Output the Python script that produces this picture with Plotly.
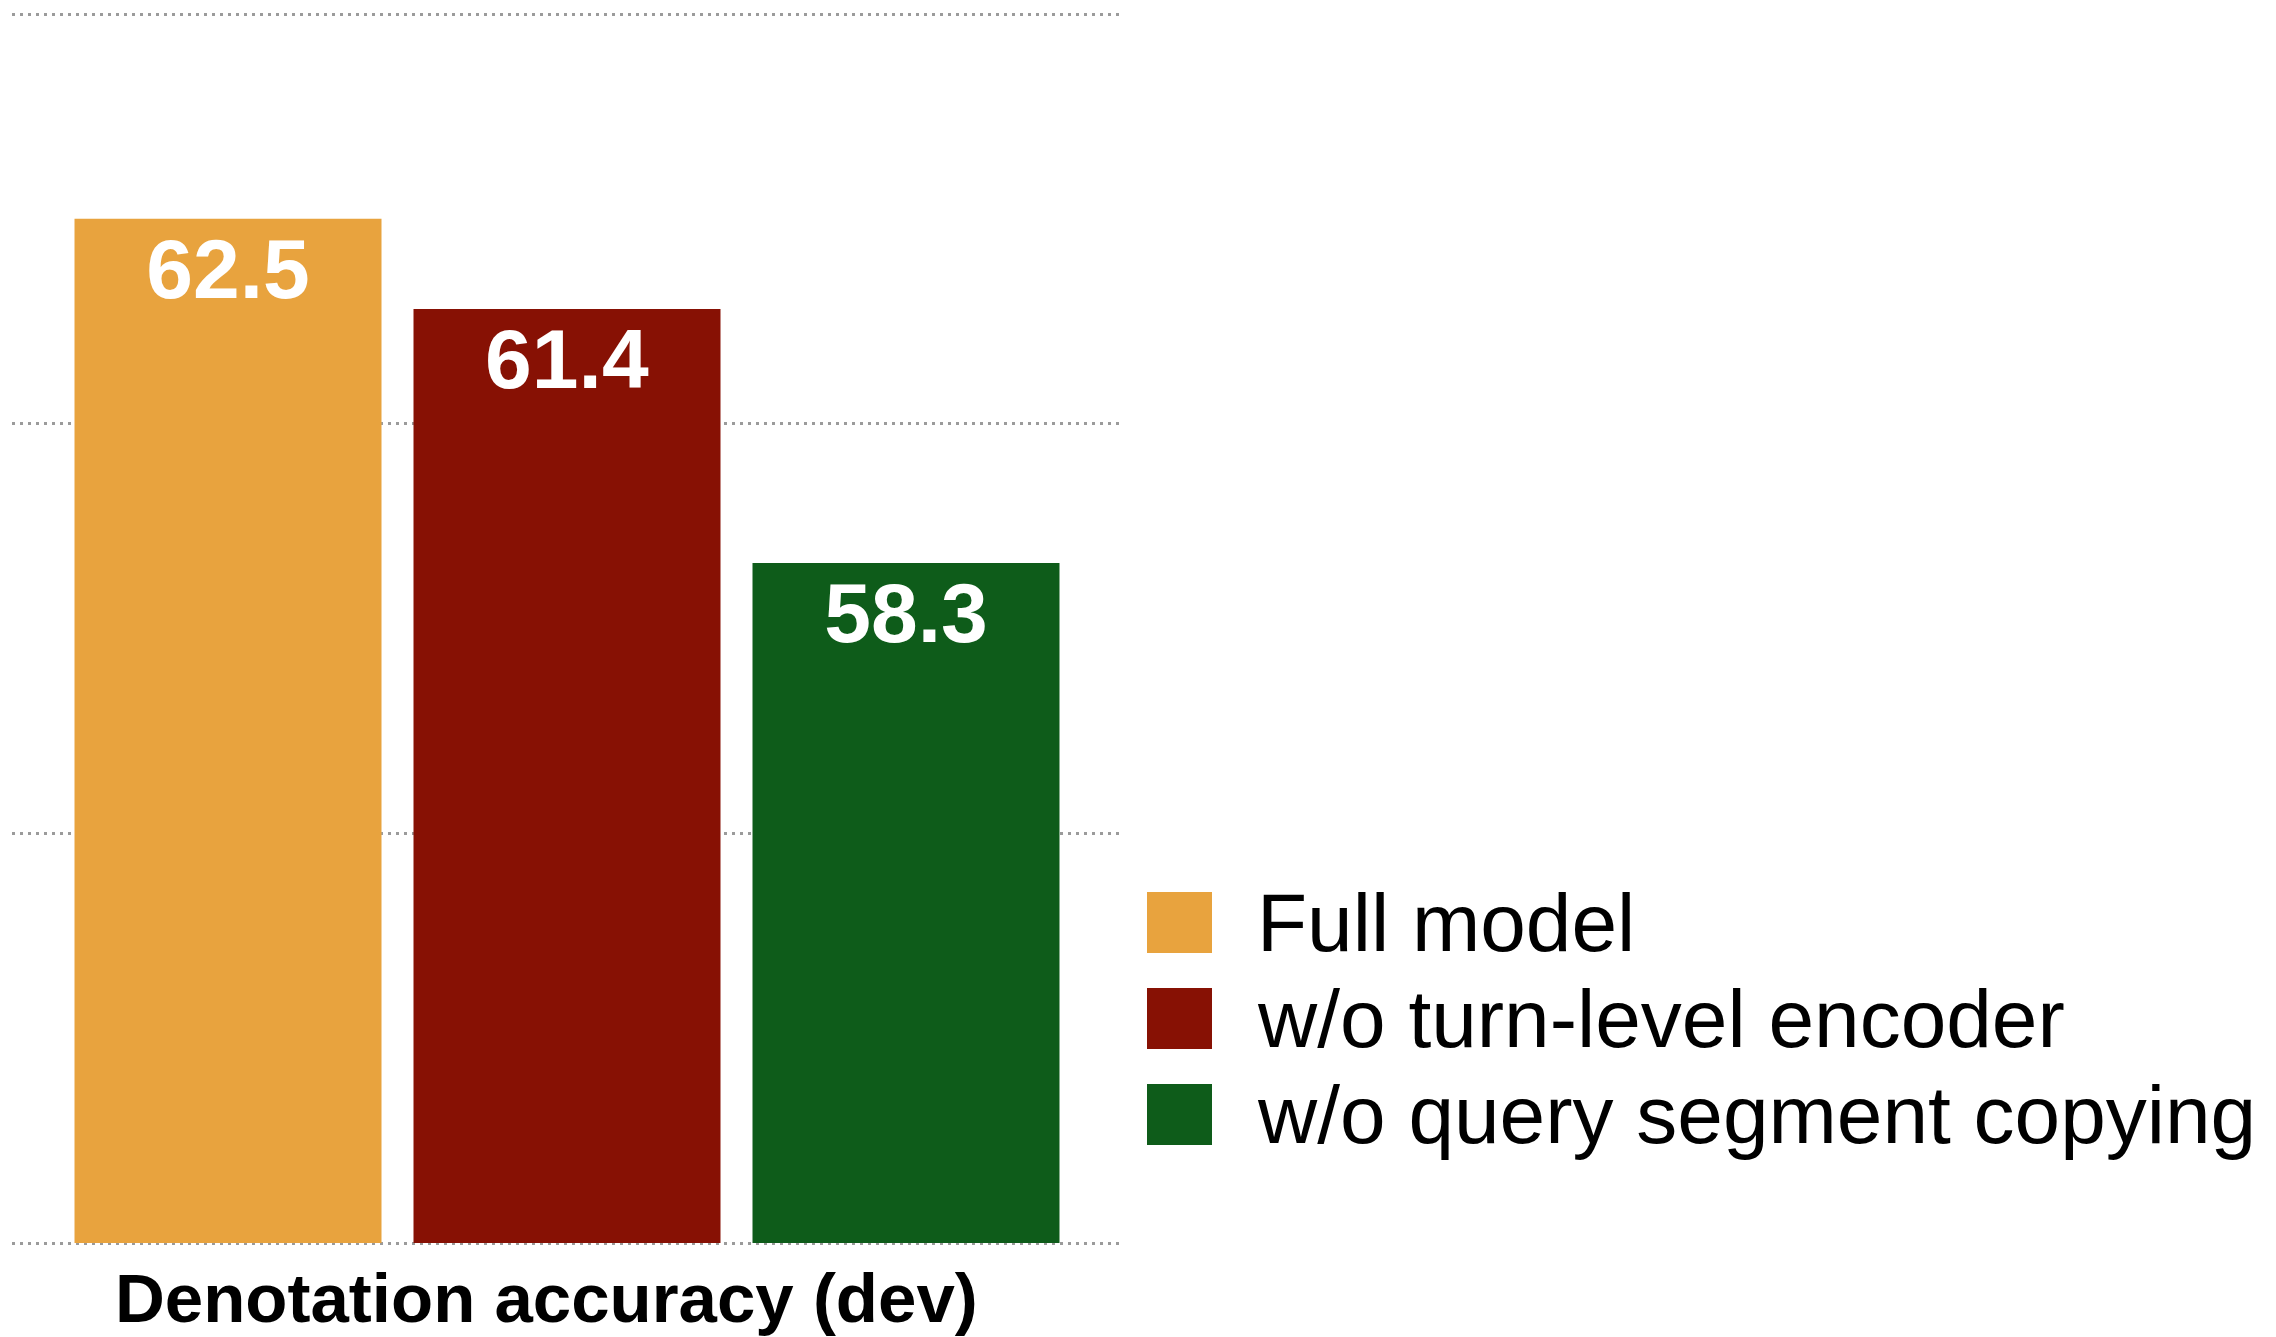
import plotly.graph_objects as go

# Data
categories = ["Denotation accuracy (dev)"]
series_names = ["Full model", "w/o turn-level encoder", "w/o query segment copying"]
series_values = [62.5, 61.4, 58.3]
series_colors = ["#E8A33E", "#871104", "#0E5C1A"]
y_ticks = [50, 55, 60, 65]
y_min, y_max = 50, 65

# Canvas and plot-area geometry (pixels); the value axis runs from px 1243 (50) to px 14 (65)
W, H = 2276, 1337
L, R = 12, 1154
Y_BOTTOM_PX, Y_TOP_PX = 1243, 14
EDGE = 3  # small pad so the outer gridlines at 50 and 65 stay inside the plot area
T, B = Y_TOP_PX - EDGE, H - Y_BOTTOM_PX - EDGE
unit_px = (Y_BOTTOM_PX - Y_TOP_PX) / (y_max - y_min)
pad_units = EDGE / unit_px

plot_w = W - L - R
plot_h = H - T - B

FONT = "Liberation Sans, Arial, Helvetica, sans-serif"


def px_x(x):
    return (x - L) / plot_w


def px_y(y):
    return (H - B - y) / plot_h


fig = go.Figure()
for name, val, col in zip(series_names, series_values, series_colors):
    fig.add_trace(go.Bar(
        x=categories,
        y=[val - y_min],
        base=y_min,
        name=name,
        marker=dict(color=col, line=dict(width=0)),
        text=[f"{val:.1f}"],
        texttemplate="%{text}",
        textposition="inside",
        insidetextanchor="end",
        textangle=0,
        textfont=dict(family=FONT, size=84, color="white", weight="bold"),
        showlegend=False,
    ))

# Hand-built legend: large square swatches with labels to their right
sw_left, sw_right = 1147, 1212
sw_tops = [892, 988, 1084]
sw_h = 61
shapes = []
annotations = []
for name, col, top in zip(series_names, series_colors, sw_tops):
    shapes.append(dict(
        type="rect", xref="paper", yref="paper",
        x0=px_x(sw_left), x1=px_x(sw_right),
        y0=px_y(top + sw_h), y1=px_y(top),
        fillcolor=col, line=dict(width=0), layer="above",
    ))
    annotations.append(dict(
        text=name, xref="paper", yref="paper",
        x=px_x(1256), y=px_y(top + sw_h / 2),
        xanchor="left", yanchor="middle", showarrow=False, borderpad=0,
        font=dict(family=FONT, size=82, color="black"),
    ))

# Category label under the bars
annotations.append(dict(
    text=categories[0], xref="paper", yref="paper",
    x=px_x(546), y=px_y(1299),
    xanchor="center", yanchor="middle", showarrow=False,
    font=dict(family=FONT, size=69, color="black", weight="bold"),
))

fig.update_layout(
    width=W, height=H,
    margin=dict(l=L, r=R, t=T, b=B, pad=0),
    paper_bgcolor="white", plot_bgcolor="white",
    barmode="group", bargap=0.0838, bargroupgap=0.0944,
    showlegend=False,
    shapes=shapes, annotations=annotations,
    xaxis=dict(type="category", showticklabels=False, showgrid=False,
               zeroline=False, showline=False, ticks=""),
    yaxis=dict(range=[y_min - pad_units, y_max + pad_units], tickvals=y_ticks,
               showticklabels=False, showgrid=True, gridcolor="#9b9b9b",
               gridwidth=3, griddash="3px,5px", zeroline=False,
               showline=False, ticks=""),
)

fig.write_html("out.html")
